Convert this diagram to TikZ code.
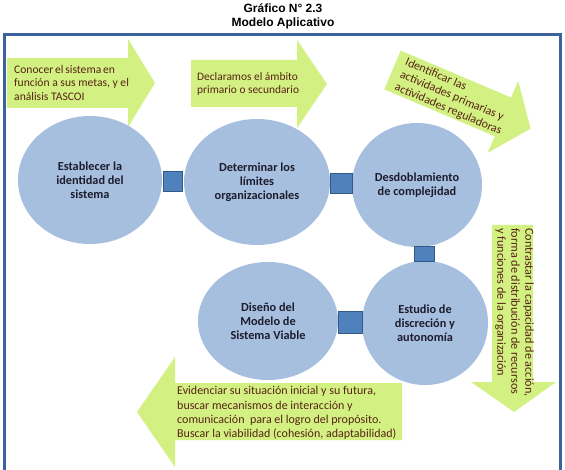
\documentclass[tikz,border=0pt]{standalone}
\usepackage{fontspec}
\setmainfont{Carlito}
\newfontfamily\headfont{Liberation Sans}
\usetikzlibrary{shapes.geometric}

\definecolor{framecol}{RGB}{60,98,160}
\definecolor{calloutfill}{RGB}{210,241,130}
\definecolor{calloutink}{RGB}{88,34,22}
\definecolor{phasefill}{RGB}{167,191,222}
\definecolor{phaseink}{RGB}{28,28,45}
\definecolor{linkfill}{RGB}{79,129,189}
\definecolor{linkdraw}{RGB}{52,88,135}

\newlength\leadwd

\tikzset{
  phase/.style={ellipse, fill=phasefill, inner sep=0pt, text=phaseink, align=center,
    font=\bfseries\fontsize{12.3}{13.8}\selectfont},
  link/.style={rectangle, fill=linkfill, draw=linkdraw, line width=0.9pt, inner sep=0pt},
  callout/.style={fill=calloutfill},
  note/.style={text=calloutink, inner sep=0pt, align=left,
    font=\fontsize{11.4}{13.5}\selectfont},
}

\begin{document}
\begin{tikzpicture}[x=1pt,y=-1pt]
\useasboundingbox (0,0) rectangle (565,470);
\fill[white] (0,0) rectangle (565,470);

% heading
\node[font=\headfont\bfseries\fontsize{12}{14}\selectfont, align=center] (title) at (283,16)
  {Gráfico N° 2.3\\Modelo Aplicativo};

% outer frame (runs off the lower edge)
\draw[framecol, line width=3pt] (4,470) -- (4,35) -- (560,35) -- (560,470);

% callout arrows
\fill[callout] (7,58) -- (128,58) -- (128,39) -- (155,83) -- (128,127) -- (128,108) -- (7,108) -- cycle;
\settowidth\leadwd{\fontsize{11.6}{13.5}\selectfont función a sus metas, y el}
\node[note, anchor=west, font=\fontsize{11.6}{13.5}\selectfont] (n1) at (14,83)
  {\makebox[\leadwd][s]{Conocer el sistema en}\\función a sus metas, y el\\análisis TASCOI};

\fill[callout] (191,60) -- (297,60) -- (297,40) -- (327,84) -- (297,128) -- (297,107) -- (191,107) -- cycle;
\node[note, anchor=west] (n2) at (197,84) {Declaramos el ámbito\\primario o secundario};

\begin{scope}[shift={(392.5,70)}, rotate=-23]
  \fill[callout] (0,-21) -- (120,-21) -- (120,-39) -- (150,0) -- (120,39) -- (120,21) -- (0,21) -- cycle;
  \node[note, anchor=west, rotate=-23, font=\fontsize{12}{13.5}\selectfont] (n3) at (9,1)
    {Identificar las\\actividades primarias y\\actividades reguladoras};
\end{scope}

\fill[callout] (492,225) -- (533,225) -- (533,382) -- (556,382) -- (514,412) -- (471,382) -- (492,382) -- cycle;
\node[note, rotate=-90, anchor=north west, font=\fontsize{12.2}{14}\selectfont] (n4) at (534,228)
  {Contrastar la capacidad de acción,\\forma de distribución de recursos\\y funciones de la organización};

\fill[callout] (402,383) -- (175,383) -- (175,357) -- (137,412) -- (175,467) -- (175,440) -- (402,440) -- cycle;
\node[note, anchor=west, font=\fontsize{12}{14.3}\selectfont] (n5) at (177,413)
  {Evidenciar su situación inicial y su futura,\\buscar mecanismos de interacción y\\comunicación\ \ para el logro del propósito.\\Buscar la viabilidad (cohesión, adaptabilidad)};

% phases
\node[phase, minimum width=144pt, minimum height=128pt] (c1) at (90,180) {Establecer la\\identidad del\\sistema};
\node[phase, minimum width=146pt, minimum height=126pt] (c2) at (257,182) {Determinar los\\límites\\organizacionales};
\node[phase, minimum width=130pt, minimum height=124pt] (c3) at (417,185) {Desdoblamiento\\de complejidad};
\node[phase, minimum width=126pt, minimum height=124pt] (c4) at (425,323) {Estudio de\\discreción y\\autonomía};
\node[phase, minimum width=140pt, minimum height=118pt] (c5) at (268,321) {Diseño del\\Modelo de\\Sistema Viable};

% links between phases
\path (c1.east) -- node[link, minimum width=19pt, minimum height=20pt] (l12) {} (c2.west);
\path (c2.east) -- node[link, minimum width=22pt, minimum height=20pt] (l23) {} (c3.west);
\path (c3.south) -- node[link, minimum width=20pt, minimum height=15pt, xshift=3pt] (l34) {} (c4.north);
\path (c5.east) -- node[link, minimum width=24pt, minimum height=22pt] (l54) {} (c4.west);
\end{tikzpicture}
\end{document}
